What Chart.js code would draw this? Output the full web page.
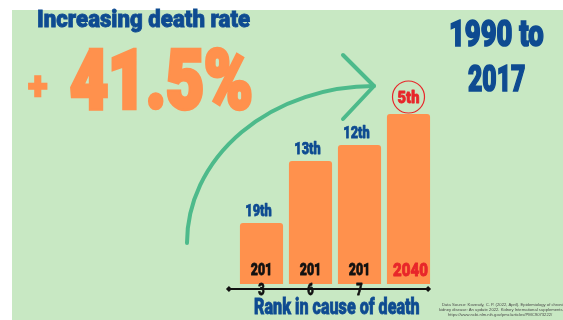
<!DOCTYPE html>
<html><head><meta charset="utf-8">
<script src="https://cdn.jsdelivr.net/npm/chart.js@4.4.1/dist/chart.umd.min.js"></script>
<style>
html,body{margin:0;padding:0;width:563px;height:320px;overflow:hidden;background:#fff;}
#bg{position:absolute;left:12px;top:10px;width:551px;height:310px;background:#C8E8C3;}
#c{position:absolute;left:0;top:0;}
.t{position:absolute;white-space:nowrap;line-height:1;font-family:Roboto,'Liberation Sans',sans-serif;font-weight:900;transform-origin:0 0;}
.src{position:absolute;white-space:nowrap;font-family:'Liberation Sans',Arial,sans-serif;font-size:4.2px;color:#4a4a4a;line-height:1;}
</style></head>
<body>
<div id="bg"></div>
<canvas id="c" width="563" height="320"></canvas>
<div class="t" data-x="37" data-top="10" data-base="28" data-w="213" data-sw="0.045" style="color:#0E4B91">Increasing death rate</div>
<div class="t" data-x="27" data-top="76" data-base="98" data-w="21" data-ink="1" data-sw="0.07" style="color:#FF914D">+</div>
<div class="t" data-x="68" data-top="47" data-base="110" data-w="182" data-sw="0.07" style="color:#FF914D">41.5%</div>
<div class="t" data-x="448" data-top="20" data-base="48" data-w="94" data-sw="0.06" style="color:#0E4B91">1990 to</div>
<div class="t" data-x="467" data-top="65" data-base="93" data-w="57" data-sw="0.06" style="color:#0E4B91">2017</div>
<div class="t" data-x="254" data-top="298" data-base="315" data-w="165" data-sw="0.045" style="color:#0E4B91">Rank in cause of death</div>
<div class="src" style="left:442px;top:303px">Data Source: Kovesdy, C. P. (2022, April). Epidemiology of chronic</div>
<div class="src" style="left:439px;top:308px">kidney disease: An update 2022. Kidney International supplements,</div>
<div class="src" style="left:448px;top:313px">https://www.ncbi.nlm.nih.gov/pmc/articles/PMC9073222/</div>
<script>
// ---- data ----
const categories = ['2013', '2016', '2017', '2040'];
const rankLabels = ['19th', '13th', '12th', '5th'];
const barHeights = [61, 123, 139, 170];
const highlightIndex = 3;

const FONT = 'Roboto, "Liberation Sans", sans-serif';
const BLUE = '#0E4B91', ORANGE = '#FF914D', RED = '#E8262A', GREEN = '#4DBA8B';

const mc = document.createElement('canvas').getContext('2d');
function metrics(text, px){
  mc.font = '900 ' + px + 'px ' + FONT;
  return mc.measureText(text);
}

// fit HTML texts (condensed heavy look)
document.querySelectorAll('.t').forEach(el => {
  const x = +el.dataset.x, top = +el.dataset.top, base = +el.dataset.base, w = +el.dataset.w;
  const txt = el.textContent;
  const ref = metrics(el.dataset.ink ? txt : 'H', 100);
  let fs, baseline;
  const sw = (base - top) * (+el.dataset.sw);
  if (el.dataset.ink) {
    const h = ref.actualBoundingBoxAscent + ref.actualBoundingBoxDescent;
    fs = (base - top - sw) / h * 100;
    baseline = base - sw / 2 - ref.actualBoundingBoxDescent / 100 * fs;
  } else {
    fs = (base - top - sw) / ref.actualBoundingBoxAscent * 100;
    baseline = base - sw / 2;
  }
  const m = metrics(txt, fs);
  const A = m.fontBoundingBoxAscent, D = m.fontBoundingBoxDescent;
  const inkW = m.actualBoundingBoxLeft + m.actualBoundingBoxRight + sw;
  const sx = w / inkW;
  el.style.fontSize = fs + 'px';
  el.style.webkitTextStroke = sw + 'px ' + el.style.color;
  el.style.paintOrder = 'stroke fill';
  el.style.top = (baseline - (fs + A - D) / 2) + 'px';
  el.style.left = (x + sw / 2 * sx) + 'px';
  el.style.transform = 'scaleX(' + sx + ')';
});

function condText(ctx, text, cx, baseY, capH, width, color){
  const sw = capH * 0.06;
  const ref = metrics('H', 100);
  const fs = (capH - sw) / ref.actualBoundingBoxAscent * 100;
  const m = metrics(text, fs);
  const sx = width / (m.actualBoundingBoxLeft + m.actualBoundingBoxRight + sw);
  ctx.save();
  ctx.font = '900 ' + fs + 'px ' + FONT;
  ctx.fillStyle = color;
  ctx.strokeStyle = color;
  ctx.lineWidth = sw;
  ctx.lineJoin = 'round';
  ctx.textAlign = 'center';
  ctx.textBaseline = 'alphabetic';
  ctx.translate(cx, baseY - sw / 2);
  ctx.scale(sx, 1);
  ctx.strokeText(text, 0, 0);
  ctx.fillText(text, 0, 0);
  ctx.restore();
}

const arrowPlugin = {
  id: 'arrow',
  beforeDatasetsDraw(chart){
    const ctx = chart.ctx;
    ctx.save();
    ctx.strokeStyle = GREEN;
    ctx.lineWidth = 4;
    ctx.lineCap = 'round';
    ctx.lineJoin = 'round';
    ctx.beginPath();
    ctx.ellipse(374, 243, 187, 157, 0, Math.PI, 1.5 * Math.PI);
    ctx.stroke();
    ctx.beginPath();
    ctx.moveTo(343, 55);
    ctx.lineTo(374, 86);
    ctx.lineTo(343, 119);
    ctx.stroke();
    ctx.restore();
  }
};

const labelPlugin = {
  id: 'labels',
  afterDatasetsDraw(chart){
    const ctx = chart.ctx;
    const meta = chart.getDatasetMeta(0);
    meta.data.forEach((bar, i) => {
      const cx = bar.x;
      const hi = i === highlightIndex;
      if (hi) {
        const cy = bar.y - 17;
        ctx.save();
        ctx.strokeStyle = RED;
        ctx.lineWidth = 1.2;
        ctx.beginPath();
        ctx.arc(cx, cy, 16, 0, Math.PI * 2);
        ctx.stroke();
        ctx.restore();
        condText(ctx, rankLabels[i], cx, cy + 6.5, 13, 22, RED);
        condText(ctx, categories[i], cx + 2, chart.chartArea.bottom - 8, 14, 35, RED);
      } else {
        condText(ctx, rankLabels[i], cx - 3, bar.y - 7, 12.5, 26, BLUE);
        const c = categories[i];
        condText(ctx, c.slice(0, 3), cx, chart.chartArea.bottom - 9, 13, 20, '#111');
        condText(ctx, c.slice(3), cx, chart.chartArea.bottom + 11, 13, 7, '#111');
      }
    });
    // baseline axis
    const first = meta.data[0], last = meta.data[meta.data.length - 1];
    const x0 = first.x - first.width / 2 - 11;
    const x1 = last.x + last.width / 2 - 2;
    const y = chart.chartArea.bottom + 5;
    ctx.save();
    ctx.strokeStyle = '#111';
    ctx.fillStyle = '#111';
    ctx.lineWidth = 2.2;
    ctx.beginPath();
    ctx.moveTo(x0, y); ctx.lineTo(x1, y);
    ctx.stroke();
    [x0, x1].forEach(px => {
      ctx.beginPath();
      ctx.moveTo(px - 3, y); ctx.lineTo(px, y - 3); ctx.lineTo(px + 3, y); ctx.lineTo(px, y + 3);
      ctx.closePath(); ctx.fill();
    });
    ctx.restore();
  }
};

new Chart(document.getElementById('c'), {
  type: 'bar',
  data: {
    labels: categories,
    datasets: [{
      data: barHeights,
      backgroundColor: ORANGE,
      borderRadius: 3,
      borderSkipped: 'bottom',
      categoryPercentage: 1,
      barPercentage: 0.88
    }]
  },
  options: {
    responsive: false,
    animation: false,
    events: [],
    layout: { padding: { left: 237, right: 130, top: 114, bottom: 36 } },
    scales: {
      x: { display: false },
      y: { display: false, min: 0, max: 170 }
    },
    plugins: { legend: { display: false }, tooltip: { enabled: false } }
  },
  plugins: [arrowPlugin, labelPlugin]
});
</script>
</body></html>
